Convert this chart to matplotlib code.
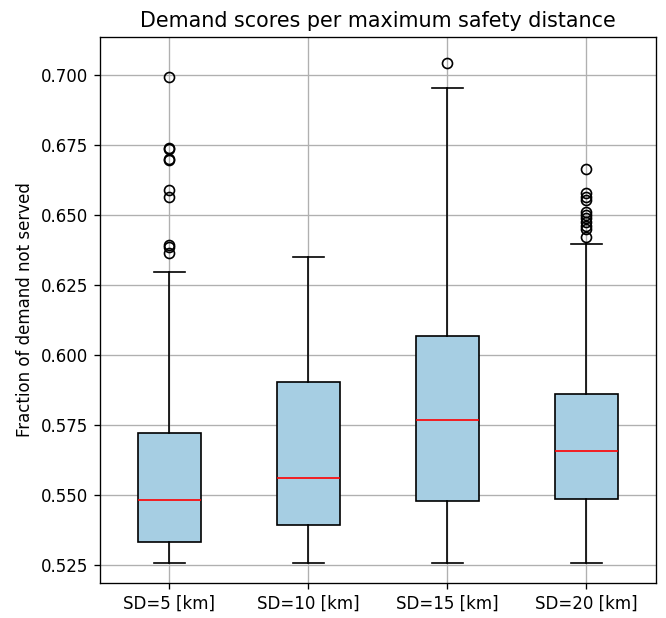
import matplotlib
matplotlib.use("Agg")
import matplotlib.pyplot as plt

labels = ["SD=5 [km]", "SD=10 [km]", "SD=15 [km]", "SD=20 [km]"]
q1 = [0.5333, 0.5393, 0.5480, 0.5488]
medians = [0.5483, 0.5563, 0.5767, 0.5657]
q3 = [0.5722, 0.5904, 0.6069, 0.5861]
whisker_low = [0.5257, 0.5257, 0.5257, 0.5257]
whisker_high = [0.6296, 0.6352, 0.6952, 0.6395]
fliers = [
    [0.6992, 0.6740, 0.6737, 0.6700, 0.6697, 0.6590, 0.6565, 0.6392, 0.6385, 0.6365],
    [],
    [0.7044],
    [0.6664, 0.6578, 0.6566, 0.6554, 0.6512, 0.6501, 0.6489, 0.6477, 0.6461,
     0.6450, 0.6421],
]

stats = []
for i in range(len(labels)):
    stats.append({
        "label": labels[i],
        "q1": q1[i],
        "med": medians[i],
        "q3": q3[i],
        "whislo": whisker_low[i],
        "whishi": whisker_high[i],
        "fliers": fliers[i],
    })

# rendered a bit larger than default, like the original screenshot
fig = plt.figure(figsize=(5.55, 5.15), dpi=120)
ax = fig.add_axes([0.150, 0.057, 0.835, 0.883])
ax.bxp(stats, patch_artist=True,
       boxprops=dict(facecolor="#a6cee3", edgecolor="black"),
       medianprops=dict(color="red"))
ax.set_ylim(0.5188, 0.7135)
ax.grid(True)
ax.set_title("Demand scores per maximum safety distance", fontsize=12.4)
ax.set_ylabel("Fraction of demand not served")
fig.savefig("out.png", dpi=120)
